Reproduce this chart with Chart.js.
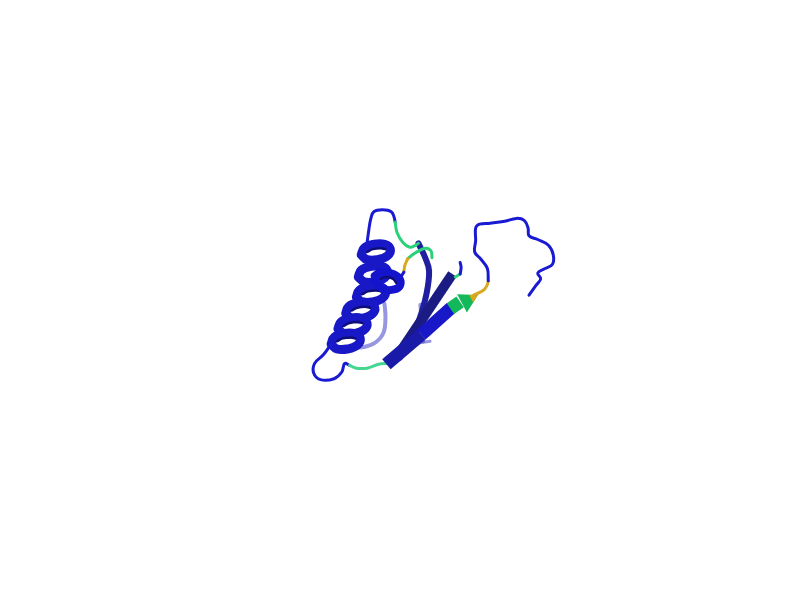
<!DOCTYPE html>
<html>
<head>
<meta charset="utf-8">
<title>Protein cartoon</title>
<script src="https://cdn.jsdelivr.net/npm/chart.js@4.4.1/dist/chart.umd.min.js"></script>
<style>
  html, body { margin: 0; padding: 0; background: #ffffff; }
  #wrap { width: 800px; height: 600px; }
</style>
</head>
<body>
<div id="wrap"><canvas id="chart-cartoon" width="800" height="600"></canvas></div>
<script>
// All points are [x, y] (y grows downward).

// faint ribbons seen through the back of the fold
const bgLoop = [[384,304],[385,318],[383,334],[375,344],[363,349],[351,349]];
const bgStrand = [[421,305],[423,325],[424,343]];
const bgStub = [[417,345],[424,344],[431,343]];

// beta strands
const strandC = [[419,241],[426,256],[430,270],[427,295],[420,320],[410,345],[400,360]];
const strandB = [[399,356],[454,273]];
const strandALow = [[386,367],[422,336]];
const strandAHigh = [[422,336],[453,308]];
const strandAGreen = [[452,309],[462,302]];
const arrowHead = [[469.4,300.6]];
const arrowTip = [[475.6,297.4]];

// short tail on top of the dark strand
const stubGreen = [[457,276],[462,273]];
const stubBlue = [[462,273],[463,266],[462,261]];

// alpha helix: one closed turn per ring, top ring first
const helixRings = [
  [[360,253],[363,246],[373,242],[384,242],[390,247],[387,254],[377,258],[366,258],[360,253]],
  [[357,276],[360,269],[370,265],[381,265],[387,270],[384,277],[374,281],[363,281],[357,276]],
  [[355,297],[358,290],[368,286],[379,286],[385,291],[382,298],[372,302],[361,302],[355,297]],
  [[344,314],[347,307],[357,303],[368,303],[374,308],[371,315],[361,319],[350,319],[344,314]],
  [[336,330],[339,323],[349,319],[360,319],[366,324],[363,331],[353,335],[342,335],[336,330]],
  [[329,346],[332,339],[342,335],[353,335],[359,340],[356,347],[346,351],[335,351],[329,346]],
];
// dark inner face seen through each ring
const helixInner = [
  [[366,250],[372,247],[380,246],[385,247]],
  [[361,294],[367,291],[375,290],[380,291]],
  [[350,311],[356,308],[364,307],[369,308]],
  [[342,327],[348,324],[356,323],[361,324]],
  [[335,343],[341,340],[349,339],[354,340]],
];
const helixShort = [[374,275],[380,271],[390,272],[399,277],[400,285],[394,289],[384,289],[376,283],[374,275]];
const helixShortInner = [[380,278],[386,276],[393,278],[396,282]];

// loops
const topLoopBlue = [[366,241],[368,226],[370,215],[373,208],[382,206],[391,208],[394,214],[395,219]];
const topLoopGreen = [[395,219],[397,230],[403,240],[410,245],[416,243],[419,241]];
const hookGreen = [[433,256],[432,249],[427,246],[421,248],[414,252],[408,257]];
const hookYellow = [[408,257],[405,264],[404,271]];
const hookBlue = [[404,271],[399,279]];
const bottomLoopBlue = [[329,346],[321,357],[312,366],[311,376],[318,383],[332,382],[340,375],[343,366],[348,368]];
const bottomLoopGreen = [[348,368],[355,371],[366,371],[378,367],[387,366]];
const tailYellow = [[476,295],[482,292],[487,289],[490,284],[491,280]];
const tailBlue = [[491,280],[490,267],[483,257],[477,250],[478,238],[478,225],[482,221],[493,220],[508,218],[520,215],[528,217],[532,225],[533,233],[542,237],[553,243],[558,253],[557,263],[548,268],[542,272],[545,278],[540,285],[533,295]];

const BLUE = "#1a1ad2";
const FRONT = "#1818c6";
const INNER = "#0e0e78";
const NAVY = "#1b1b84";
const FAINT = "rgba(80,80,205,0.6)";
const GREEN = "#2bd07a";
const GREEN_DARK = "#12b85a";
const GOLD = "#d9a81c";

function path(points, color, width, extra) {
  return Object.assign({
    data: points.map(p => ({ x: p[0], y: p[1] })),
    borderColor: color,
    borderWidth: width,
    showLine: true,
    pointRadius: 0,
    tension: 0.4,
    borderCapStyle: "round",
    borderJoinStyle: "round",
    fill: false,
  }, extra || {});
}

function marker(points, color, radius, rotation) {
  return {
    data: points.map(p => ({ x: p[0], y: p[1] })),
    showLine: false,
    pointStyle: "triangle",
    pointRadius: radius,
    pointRotation: rotation,
    pointBackgroundColor: color,
    pointBorderWidth: 0,
  };
}

const straight = { tension: 0, borderCapStyle: "butt" };

// back to front
const layers = [
  path(bgLoop, FAINT, 4),
  path(bgStrand, FAINT, 4),
  path(bgStub, FAINT, 3),
  path(strandC, "#1f1fa0", 6),
  path(strandB, NAVY, 10, straight),
  path(stubGreen, GREEN, 3),
  path(stubBlue, BLUE, 3),
  ...helixRings.map(r => path(r, FRONT, 9, { tension: 0.45 })),
  ...helixInner.map(r => path(r, INNER, 2.5)),
  path(hookGreen, GREEN, 3),
  path(hookYellow, GOLD, 3),
  path(hookBlue, BLUE, 3),
  path(helixShort, "#1414cc", 8, { tension: 0.45 }),
  path(helixShortInner, INNER, 2.5),
  path(topLoopBlue, BLUE, 3),
  path(topLoopGreen, GREEN, 3),
  path(bottomLoopBlue, BLUE, 3),
  path(bottomLoopGreen, "#45d690", 3),
  path(strandALow, "#1a1aa8", 13, straight),
  path(strandAHigh, "#1818c8", 13, straight),
  path(strandAGreen, GREEN_DARK, 13, straight),
  marker(arrowHead, GREEN_DARK, 12, 62),
  marker(arrowTip, GOLD, 5, 62),
  path(tailYellow, GOLD, 3),
  path(tailBlue, BLUE, 3),
];
// Chart.js paints lower "order" on top
layers.forEach((ds, i) => { ds.order = layers.length - i; });

new Chart(document.getElementById("chart-cartoon"), {
  type: "scatter",
  data: { datasets: layers },
  options: {
    responsive: false,
    animation: false,
    events: [],
    layout: { padding: 0 },
    plugins: { legend: { display: false }, tooltip: { enabled: false } },
    scales: {
      x: { type: "linear", min: 0, max: 800, display: false },
      y: { type: "linear", min: 0, max: 600, reverse: true, display: false },
    },
  },
});
</script>
</body>
</html>
